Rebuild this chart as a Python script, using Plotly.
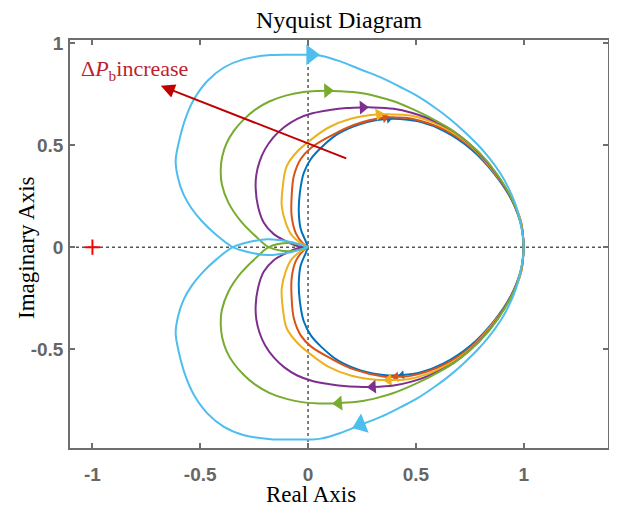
import plotly.graph_objects as go

# Upper branch of each Nyquist curve, from the origin to (1, 0); lower branch is its mirror image
blue_x = [0, -0.011, -0.034, -0.043, -0.038, -0.020, 0.013, 0.059, 0.138, 0.244, 0.374, 0.435, 0.520, 0.629, 0.755, 0.861, 0.940, 0.987, 1.0]
blue_y = [0, 0.030, 0.089, 0.177, 0.266, 0.364, 0.433, 0.487, 0.556, 0.605, 0.630, 0.628, 0.615, 0.571, 0.482, 0.364, 0.241, 0.123, 0]

orange_x = [0, -0.025, -0.057, -0.076, -0.076, -0.066, -0.034, 0.013, 0.105, 0.212, 0.356, 0.407, 0.476, 0.629, 0.755, 0.861, 0.940, 0.987, 1.0]
orange_y = [0, 0.020, 0.069, 0.152, 0.251, 0.349, 0.433, 0.487, 0.546, 0.600, 0.636, 0.637, 0.632, 0.578, 0.490, 0.368, 0.245, 0.126, 0]

yellow_x = [0, -0.034, -0.076, -0.103, -0.122, -0.117, -0.099, -0.048, 0.0, 0.091, 0.198, 0.328, 0.374, 0.476, 0.629, 0.755, 0.861, 0.940, 0.987, 1.0]
yellow_y = [0, 0.020, 0.059, 0.118, 0.202, 0.300, 0.398, 0.472, 0.516, 0.585, 0.630, 0.652, 0.652, 0.646, 0.588, 0.497, 0.372, 0.249, 0.127, 0]

purple_x = [0, -0.048, -0.103, -0.159, -0.205, -0.232, -0.243, -0.240, -0.225, -0.200, -0.160, -0.110, -0.050, 0.020, 0.100, 0.180, 0.254, 0.300, 0.397, 0.480, 0.555, 0.676, 0.790, 0.880, 0.950, 0.990, 1.0]
purple_y = [0, 0.005, 0.030, 0.064, 0.120, 0.200, 0.290, 0.355, 0.420, 0.480, 0.540, 0.590, 0.630, 0.657, 0.673, 0.683, 0.686, 0.686, 0.679, 0.660, 0.633, 0.568, 0.465, 0.350, 0.220, 0.100, 0]

green_x = [0, -0.090, -0.182, -0.233, -0.312, -0.370, -0.400, -0.405, -0.398, -0.378, -0.345, -0.300, -0.245, -0.180, -0.100, -0.020, 0.045, 0.090, 0.142, 0.244, 0.320, 0.397, 0.480, 0.555, 0.676, 0.790, 0.880, 0.950, 0.990, 1.0]
green_y = [0, -0.020, 0, 0.044, 0.128, 0.220, 0.310, 0.380, 0.445, 0.510, 0.570, 0.625, 0.675, 0.715, 0.745, 0.762, 0.767, 0.768, 0.766, 0.757, 0.740, 0.716, 0.680, 0.642, 0.568, 0.468, 0.353, 0.224, 0.101, 0]

lightblue_x = [0, -0.080, -0.187, -0.275, -0.349, -0.425, -0.490, -0.540, -0.578, -0.603, -0.614, -0.598, -0.567, -0.529, -0.467, -0.390, -0.297, -0.173, -0.034, 0.013, 0.059, 0.150, 0.244, 0.340, 0.430, 0.510, 0.584, 0.655, 0.720, 0.785, 0.840, 0.893, 0.930, 0.962, 0.985, 0.997, 1.0]
lightblue_y = [0, -0.025, -0.039, -0.025, 0, 0.060, 0.125, 0.190, 0.260, 0.340, 0.423, 0.521, 0.636, 0.726, 0.816, 0.882, 0.923, 0.943, 0.944, 0.944, 0.940, 0.912, 0.872, 0.832, 0.785, 0.740, 0.688, 0.632, 0.572, 0.505, 0.438, 0.360, 0.290, 0.210, 0.120, 0.050, 0]

# (x, y, colour, upper-arrow index, lower-arrow index, arrow size)
curves = [
    (blue_x, blue_y, "#0072BD", 10, 11, 8),
    (orange_x, orange_y, "#D95319", 10, 11, 9),
    (yellow_x, yellow_y, "#EDB120", 11, 12, 11),
    (purple_x, purple_y, "#7E2F8E", 16, 17, 12),
    (green_x, green_y, "#77AC30", 17, 18, 13),
    (lightblue_x, lightblue_y, "#4DBEEE", 19, 22, 18),
]

critical_x = [-1]
critical_y = [0]

arrow_tip = (-0.683, 0.792)
arrow_tail = (0.184, 0.433)

x_range = [-1.104, 1.391]
y_range = [-0.986, 1.017]
x_ticks = [-1, -0.5, 0, 0.5, 1]
x_ticklabels = ["-1", "-0.5", "0", "0.5", "1"]
y_ticks = [-0.5, 0, 0.5, 1]
y_ticklabels = ["-0.5", "0", "0.5", "1"]

fig = go.Figure()

for x, y, col, ku, kl, s in curves:
    # lower branch (positive frequencies) and upper branch (negative frequencies)
    fig.add_trace(go.Scatter(x=x, y=[-v for v in y], mode="lines",
                             line=dict(color=col, width=2, shape="spline", smoothing=1.0),
                             hoverinfo="skip"))
    fig.add_trace(go.Scatter(x=x, y=y, mode="lines",
                             line=dict(color=col, width=2, shape="spline", smoothing=1.0),
                             hoverinfo="skip"))
    fig.add_trace(go.Scatter(x=[x[ku - 1], x[ku]], y=[y[ku - 1], y[ku]], mode="markers",
                             marker=dict(symbol="triangle-up", angleref="previous", size=[0, s],
                                         opacity=[0, 1], color=col, line=dict(width=0)),
                             hoverinfo="skip"))
    fig.add_trace(go.Scatter(x=[x[kl + 1], x[kl]], y=[-y[kl + 1], -y[kl]], mode="markers",
                             marker=dict(symbol="triangle-up", angleref="previous", size=[0, s],
                                         opacity=[0, 1], color=col, line=dict(width=0)),
                             hoverinfo="skip"))

fig.add_trace(go.Scatter(x=critical_x, y=critical_y, mode="markers",
                         marker=dict(symbol="cross-thin", size=11, line=dict(color="#FF0000", width=2)),
                         hoverinfo="skip"))

axis_col = "#6E6E6E"
tick_font = dict(family="Liberation Sans", size=19, color="#666666", weight="bold")

fig.update_xaxes(range=x_range, tickvals=x_ticks, ticktext=x_ticklabels, showgrid=False, zeroline=False,
                 showline=True, linecolor=axis_col, linewidth=1.5, mirror="ticks",
                 ticks="inside", ticklen=5, tickwidth=1.5, tickcolor=axis_col,
                 tickfont=tick_font, ticklabelstandoff=8)
fig.update_yaxes(range=y_range, tickvals=y_ticks, ticktext=y_ticklabels, showgrid=False, zeroline=False,
                 showline=True, linecolor=axis_col, linewidth=1.5, mirror="ticks",
                 ticks="inside", ticklen=5, tickwidth=1.5, tickcolor=axis_col,
                 tickfont=tick_font, ticklabelstandoff=1)

fig.add_shape(type="line", xref="x", yref="paper", x0=0, x1=0, y0=0, y1=1,
              line=dict(color="#555555", width=1.5, dash="dot"), layer="below")
fig.add_shape(type="line", xref="paper", yref="y", x0=0, x1=1, y0=0, y1=0,
              line=dict(color="#555555", width=1.5, dash="dot"), layer="below")

serif = "Liberation Serif"
fig.add_annotation(x=arrow_tip[0], y=arrow_tip[1], ax=arrow_tail[0], ay=arrow_tail[1],
                   xref="x", yref="y", axref="x", ayref="y", text="", showarrow=True,
                   arrowhead=2, arrowsize=1.4, arrowwidth=2, arrowcolor="#C00000")
fig.add_annotation(x=0.5, y=1.05, xref="paper", yref="paper", text="Nyquist Diagram",
                   showarrow=False, font=dict(family=serif, size=24, color="#000000"),
                   xanchor="center", yanchor="middle")
fig.add_annotation(x=0.448, y=-0.114, xref="paper", yref="paper", text="Real Axis",
                   showarrow=False, font=dict(family=serif, size=23, color="#000000"),
                   xanchor="center", yanchor="middle")
fig.add_annotation(x=-0.082, y=0.49, xref="paper", yref="paper", text="Imaginary Axis",
                   textangle=-90, showarrow=False, font=dict(family=serif, size=23, color="#000000"),
                   xanchor="center", yanchor="middle")
fig.add_annotation(x=0.017, y=0.927, xref="paper", yref="paper",
                   text="Δ<i>P</i><sub>b</sub>increase",
                   showarrow=False, font=dict(family=serif, size=22, color="#BE1E2D"),
                   xanchor="left", yanchor="middle")

# the page adds a small body margin, so the plot area is shifted up-left to compensate
fig.update_layout(width=617, height=509, margin=dict(l=62, r=17, t=32, b=69),
                  paper_bgcolor="white", plot_bgcolor="white", showlegend=False)

fig.write_html("out.html")
